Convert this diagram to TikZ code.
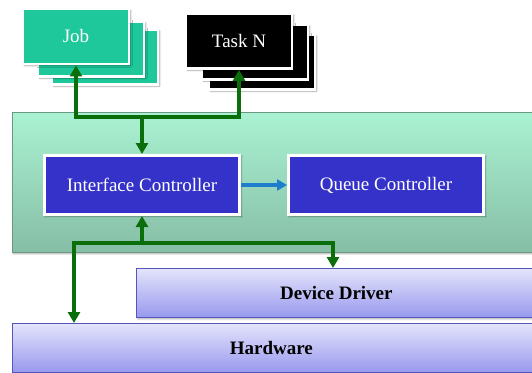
\documentclass[tikz,border=0pt]{standalone}
\usepackage{fontspec}
\setmainfont{Liberation Serif}
\usetikzlibrary{arrows.meta,shadows.blur,calc}
\definecolor{cardteal}{RGB}{30,200,155}
\definecolor{icblue}{RGB}{52,50,200}
\definecolor{linkgreen}{RGB}{10,110,10}
\definecolor{linkblue}{RGB}{30,125,205}
\definecolor{paneltop}{RGB}{170,242,210}
\definecolor{panelbot}{RGB}{134,190,166}
\definecolor{laytop}{RGB}{228,228,252}
\definecolor{laybot}{RGB}{152,152,238}
\definecolor{layedge}{RGB}{85,85,190}
\tikzset{
  softshadow/.style={blur shadow={shadow xshift=1.5pt,shadow yshift=-1.5pt,shadow blur steps=6,shadow opacity=35}},
  card/.style={rectangle,draw=white,line width=2.8pt,minimum width=106pt,minimum height=55pt,
    softshadow,text=white,font=\fontsize{19}{22}\selectfont},
  jobcard/.style={card,fill=cardteal},
  taskcard/.style={card,fill=black},
  ctrlbox/.style={rectangle,draw=white,line width=3pt,fill=icblue,minimum width=195pt,
    minimum height=59pt,softshadow,text=white,font=\fontsize{19}{22}\selectfont},
  layer/.style={rectangle,draw=layedge,line width=0.8pt,top color=laytop,bottom color=laybot,
    softshadow,font=\bfseries\fontsize{19}{22}\selectfont},
  garrow/.style={draw=linkgreen,line width=3.5pt,-{Triangle[width=12pt,length=11pt]}},
  barrow/.style={draw=linkblue,line width=3.5pt,-{Triangle[width=11pt,length=10pt]}},
}
\begin{document}
\begin{tikzpicture}[x=1pt,y=-1pt]
\useasboundingbox (0,0) rectangle (532,372);
\begin{scope}
\clip (0,0) rectangle (532,372);
% service layer panel
\node[rectangle,top color=paneltop,bottom color=panelbot,draw=panelbot!80!black,line width=0.4pt,
  softshadow,minimum width=530pt,minimum height=140pt,anchor=north west] (panel) at (12,112) {};
% lower layers
\node[layer,minimum width=400pt,minimum height=49pt,anchor=north west] (dd) at (136,268) {Device Driver};
\node[layer,minimum width=524pt,minimum height=49pt,anchor=north west] (hw) at (12,323) {\hspace*{-6pt}Hardware};
\end{scope}
% stacked job cards
\node[jobcard] (job3) at (105,57) {};
\node[jobcard] (job2) at (91,49) {};
\node[jobcard] (job) at (76,36.5) {Job};
% stacked task cards
\node[taskcard] (task3) at (262,62) {};
\node[taskcard] (task2) at (255,52) {};
\node[taskcard] (task) at (239,41) {Task N};
% controllers
\node[ctrlbox] (ic) at (142,185) {Interface Controller};
\node[ctrlbox] (qc) at (386,185) {Queue Controller};
% connectors
\coordinate (jt) at (142,117);
\coordinate (jb) at (142,243);
\draw[garrow] (jt) -| (job.south);
\draw[garrow] (jt) -| (task.south);
\draw[garrow] (jt) -- (ic.north);
\draw[garrow] (jb) -- (ic.south);
\draw[garrow] (jb) -| ($(dd.north west)+(197,0)$);
\draw[garrow] (jb) -| ($(hw.north west)+(62,0)$);
\draw[barrow] (ic.east) -- (qc.west);
\end{tikzpicture}
\end{document}
